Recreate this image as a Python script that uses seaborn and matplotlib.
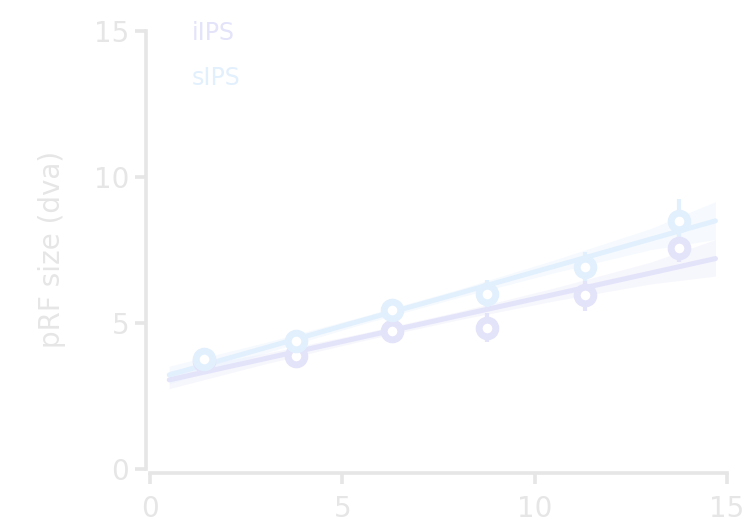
# pRF size vs eccentricity, iIPS / sIPS
import pandas as pd
import matplotlib
matplotlib.use("Agg")
from matplotlib import pyplot as plt
from matplotlib.lines import Line2D
import seaborn as sns

# binned means (eccentricity bins)
ecc_bins = [1.4, 3.8, 6.3, 8.75, 11.3, 13.75]
iips_size = [3.7, 3.87, 4.73, 4.83, 5.96, 7.57]
iips_err = [0.2, 0.2, 0.2, 0.5, 0.55, 0.5]
sips_size = [3.75, 4.38, 5.45, 6.0, 6.92, 8.5]
sips_err = [0.2, 0.2, 0.25, 0.45, 0.5, 0.75]

# regression fits and their confidence bands
fit_x = [0.5, 3.0, 5.5, 8.0, 10.5, 13.0, 14.7]
iips_fit = [3.05, 3.78, 4.51, 5.24, 5.97, 6.70, 7.2]
iips_lo = [2.75, 3.6, 4.38, 5.1, 5.75, 6.33, 6.6]
iips_hi = [3.35, 3.96, 4.64, 5.38, 6.19, 7.07, 7.85]
sips_fit = [3.22, 4.15, 5.08, 6.0, 6.93, 7.86, 8.49]
sips_lo = [2.92, 3.97, 4.95, 5.86, 6.71, 7.5, 7.85]
sips_hi = [3.52, 4.33, 5.21, 6.14, 7.15, 8.22, 9.15]

areas = ["iIPS", "sIPS"]
colors = {"iIPS": "#e3e3fa", "sIPS": "#e2f0fd"}
grey = "#e6e6e6"

sns.set_theme(style="ticks")
plt.rcParams["font.family"] = ["DejaVu Sans"]

fig = plt.figure(figsize=(7.49, 5.27), dpi=100)
ax = fig.add_axes([0.2003, 0.110, 0.7703, 0.832])

fits = pd.DataFrame({
    "ecc": fit_x * 2,
    "size": iips_fit + sips_fit,
    "area": ["iIPS"] * len(fit_x) + ["sIPS"] * len(fit_x),
})
bands = {"iIPS": (iips_lo, iips_hi), "sIPS": (sips_lo, sips_hi)}
points = {"iIPS": (iips_size, iips_err), "sIPS": (sips_size, sips_err)}

# confidence bands
for area in areas:
    lo, hi = bands[area]
    ax.fill_between(fit_x, lo, hi, color=colors[area], alpha=0.3, lw=0, zorder=1)

# fit lines
sns.lineplot(data=fits, x="ecc", y="size", hue="area", palette=colors,
             lw=3.6, legend=False, ax=ax, zorder=2)

# binned points with error bars
for area in areas:
    vals, err = points[area]
    ax.errorbar(ecc_bins, vals, yerr=err, fmt="none", ecolor=colors[area],
                elinewidth=3, capsize=0, zorder=3)
    ax.plot(ecc_bins, vals, "o", ms=12, mfc="white", mec=colors[area],
            mew=5, zorder=4)

ax.set_xlim(0, 15)
ax.set_ylim(0, 15)
ax.set_xticks([0, 5, 10, 15])
ax.set_yticks([0, 5, 10, 15])
ax.set_xlabel("")
ax.set_ylabel("pRF size (dva)", fontsize=20, color=grey, labelpad=20)
ax.tick_params(colors=grey, labelcolor=grey, labelsize=20, length=8, width=2.6)
ax.tick_params(axis="x", pad=8)
ax.tick_params(axis="y", pad=4)
for s in ax.spines.values():
    s.set_color(grey)
    s.set_linewidth(2.6)
sns.despine(ax=ax, offset=3, trim=True)

handles = [Line2D([], [], lw=0, marker=None) for _ in areas]
leg = ax.legend(handles, areas, loc="upper left", bbox_to_anchor=(0.035, 1.07),
                frameon=False, fontsize=17, handlelength=0, handletextpad=0,
                labelspacing=0.9, labelcolor=[colors[a] for a in areas])

fig.savefig("out.png", dpi=100)
